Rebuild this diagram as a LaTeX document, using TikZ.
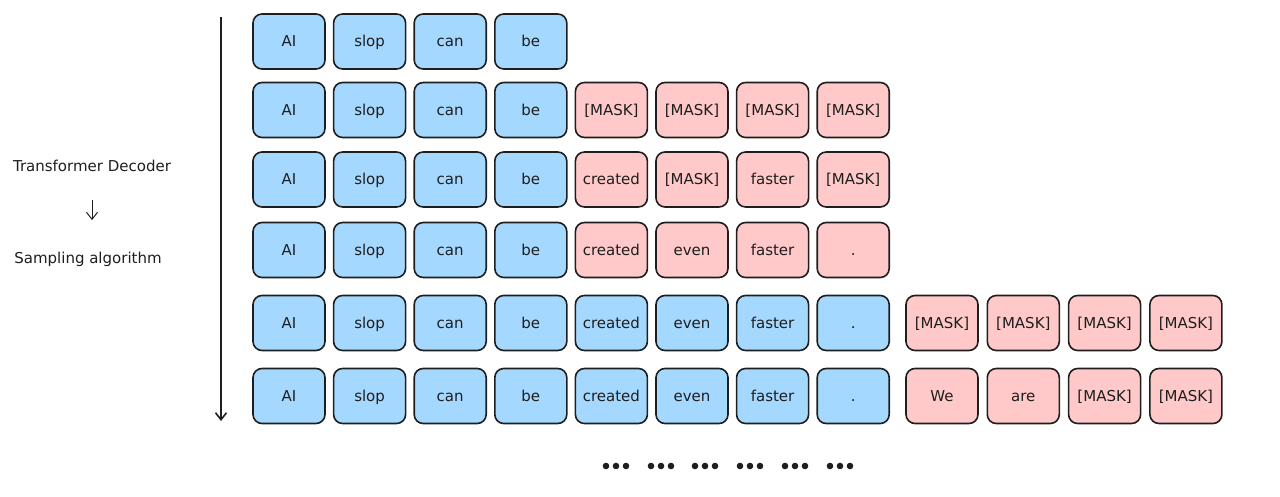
\documentclass[tikz,border=0pt]{standalone}
\usepackage{fontspec}
\setmainfont{DejaVu Sans}
\usetikzlibrary{arrows.meta}
\definecolor{tokblue}{HTML}{A5D8FF}
\definecolor{tokred}{HTML}{FFC9C9}
\definecolor{ink}{HTML}{1E1E1E}

\begin{document}
\begin{tikzpicture}[x=1pt,y=-1pt,>={Straight Barb[length=7pt,width=11pt]},
                    semithick]
  \tikzstyle{tok}=[rectangle,rounded corners=9pt,draw=ink,line width=1.6pt,
                   minimum width=72pt,minimum height=55pt,text=ink,
                   text height=2ex,text depth=0pt,
                   font=\fontsize{15}{17}\selectfont]
  \tikzstyle{old}=[tok,fill=tokblue]
  \tikzstyle{new}=[tok,fill=tokred]
  \tikzstyle{label}=[text=ink,font=\fontsize{15}{17}\selectfont]
  \useasboundingbox (0,0) rectangle (1280,497);

  % prompt tokens, every row
  \foreach \r/\y in {1/41.5,2/110,3/179.5,4/250,5/323,6/396}
    \foreach \w [count=\c] in {AI,slop,can,be}
      \node[old] (r\r c\c) at ({289+80.6*(\c-1)},\y) {\w};

  % first block
  \foreach \w [count=\c from 5] in {{[MASK]},{[MASK]},{[MASK]},{[MASK]}}
    \node[new] (r2c\c) at ({289+80.6*(\c-1)},110) {\w};
  \foreach \w [count=\c from 5] in {created,{[MASK]},faster,{[MASK]}}
    \node[new] (r3c\c) at ({289+80.6*(\c-1)},179.5) {\w};
  \foreach \w [count=\c from 5] in {created,even,faster,.}
    \node[new] (r4c\c) at ({289+80.6*(\c-1)},250) {\w};

  % block done, second block
  \foreach \r/\y in {5/323,6/396}
    \foreach \w [count=\c from 5] in {created,even,faster,.}
      \node[old] (r\r c\c) at ({289+80.6*(\c-1)},\y) {\w};
  \foreach \w [count=\c from 9] in {{[MASK]},{[MASK]},{[MASK]},{[MASK]}}
    \node[new] (r5c\c) at ({942+81.3*(\c-9)},323) {\w};
  \foreach \w [count=\c from 9] in {We,are,{[MASK]},{[MASK]}}
    \node[new] (r6c\c) at ({942+81.3*(\c-9)},396) {\w};

  % steps
  \coordinate (start) at (221,17);
  \coordinate (stop) at (221,421);
  \draw[->,ink,line width=1.6pt] (start) -- (stop);

  \node[label] (dec) at (92,166) {Transformer Decoder};
  \node[label] (samp) at (88,259) {Sampling algorithm};
  \draw[->,ink,line width=1pt,shorten <=25pt,shorten >=28pt]
    (dec.south) -- (dec.south |- samp.north);

  % and so on
  \foreach \x in {616,661,705,750,795,840}
    \foreach \d in {-10,0,10}
      \fill[ink] (\x+\d,466) circle (3.3pt);
\end{tikzpicture}
\end{document}
